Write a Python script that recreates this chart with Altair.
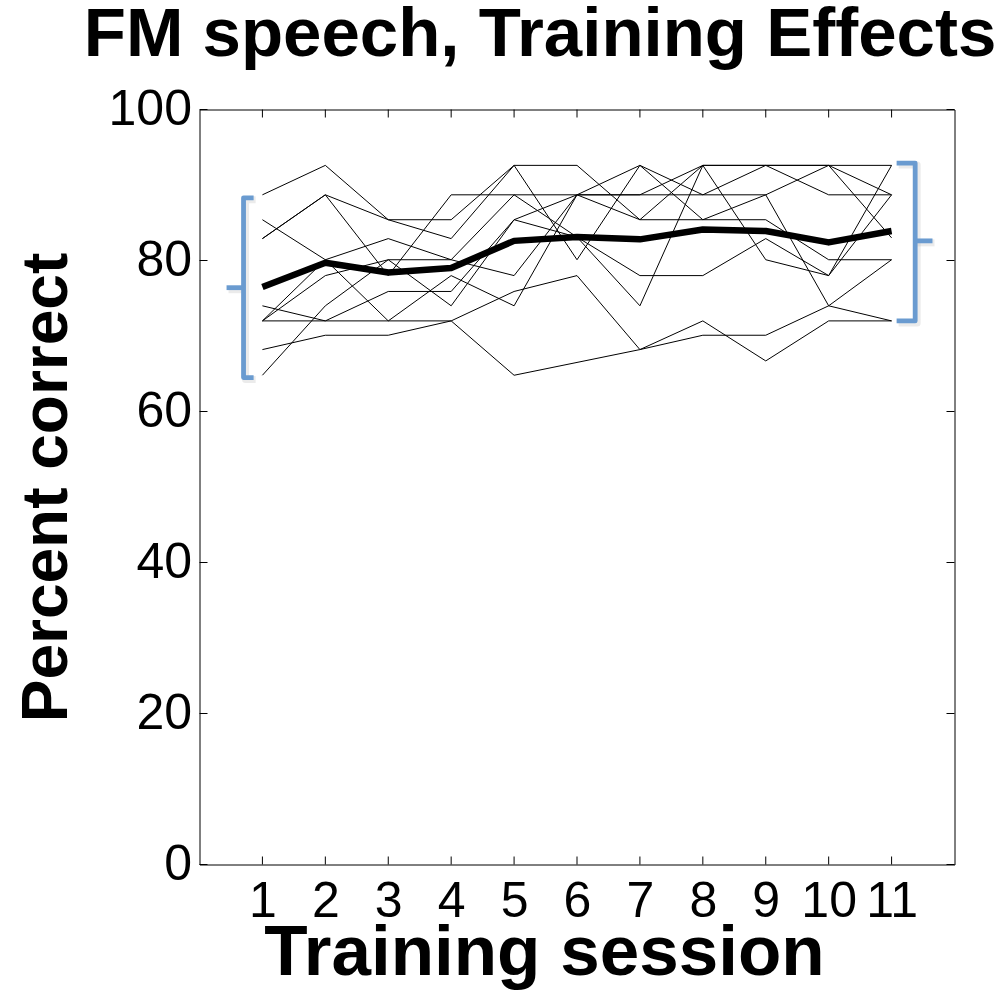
import altair as alt
import pandas as pd

# Training sessions (x) and per-listener percent correct (y)
sessions = list(range(1, 12))

subject_scores = {
    "S01": [88.7, 92.6, 85.4, 85.4, 92.6, 92.6, 85.4, 92.6, 92.6, 92.6, 88.7],
    "S02": [82.9, 88.7, 85.4, 82.9, 92.6, 80.1, 92.6, 85.4, 88.7, 74.0, 80.1],
    "S03": [82.9, 88.7, 78.0, 88.7, 88.7, 88.7, 92.6, 88.7, 92.6, 88.7, 88.7],
    "S04": [85.4, 80.1, 72.0, 78.0, 74.0, 88.7, 88.7, 92.6, 92.6, 92.6, 92.6],
    "S05": [72.0, 80.1, 82.9, 80.1, 88.7, 83.1, 78.0, 78.0, 82.9, 78.0, 92.6],
    "S06": [72.0, 78.0, 80.1, 80.1, 78.0, 88.7, 88.7, 88.7, 88.7, 92.6, 83.0],
    "S07": [72.0, 72.0, 72.0, 72.0, 64.8, 66.5, 68.2, 70.1, 70.1, 74.0, 72.0],
    "S08": [74.0, 72.0, 75.9, 75.9, 85.4, 83.1, 74.0, 92.6, 80.1, 78.0, 88.7],
    "S09": [68.2, 70.1, 70.1, 72.0, 75.9, 78.0, 68.2, 72.0, 66.7, 72.0, 72.0],
    "S10": [64.8, 74.0, 80.1, 74.0, 85.4, 88.7, 85.4, 85.4, 85.4, 80.1, 80.1],
}

# Group mean per session
mean_scores = [76.5, 79.7, 78.4, 79.0, 82.6, 83.1, 82.8, 84.1, 83.9, 82.4, 83.9]

# Spread of scores at the first and last session (low, mean, high)
first_range = [64.5, 76.4, 88.3]
last_range = [72.0, 82.6, 92.9]

y_ticks = [0, 20, 40, 60, 80, 100]
x_ticks = sessions

TITLE = "FM speech, Training Effects"
FONT = "Liberation Sans"
X_MAX, Y_MAX = 12, 100
W = H = 755
LEFT, TOP = 199.5, 109.5

rows = []
for sid, vals in subject_scores.items():
    for s, v in zip(sessions, vals):
        rows.append({"subject": sid, "session": s, "score": v})
subjects = pd.DataFrame(rows)
means = pd.DataFrame({"session": sessions, "score": mean_scores})

# inward tick marks on all four sides of the box
tx = 8 * X_MAX / W
ty = 8 * Y_MAX / H
tick_rows = []
for v in y_ticks:
    tick_rows.append({"x": 0, "x2": tx, "y": v, "y2": v})
    tick_rows.append({"x": X_MAX - tx, "x2": X_MAX, "y": v, "y2": v})
for v in x_ticks:
    tick_rows.append({"x": v, "x2": v, "y": 0, "y2": ty})
    tick_rows.append({"x": v, "x2": v, "y": Y_MAX - ty, "y2": Y_MAX})
ticks = pd.DataFrame(tick_rows)

# square brackets marking the spread at the first and last session
def bracket(name, rng, bar_x, end_x, tip_x):
    lo, mid, hi = rng
    pts = [(end_x, hi), (bar_x, hi), (bar_x, lo), (end_x, lo)]
    out = [{"part": name + "_b", "k": i, "x": x, "y": y} for i, (x, y) in enumerate(pts)]
    out += [{"part": name + "_t", "k": i, "x": x, "y": mid}
            for i, x in enumerate([bar_x, tip_x])]
    return out

brackets = pd.DataFrame(
    bracket("first", first_range, 0.70, 0.86, 0.43)
    + bracket("last", last_range, 11.375, 11.08, 11.65)
)
# soft drop shadow: same path nudged 2px right and 2px down
shadow = brackets.assign(x=brackets["x"] + 2 * X_MAX / W,
                         y=brackets["y"] - 2 * Y_MAX / H)

xs = alt.Scale(domain=[0, X_MAX], nice=False, zero=False)
ys = alt.Scale(domain=[0, Y_MAX], nice=False, zero=False)

x_axis = alt.Axis(
    values=x_ticks, format="d", labelOverlap=False, domain=False, ticks=False,
    grid=False, labelFont=FONT, labelFontSize=50, labelColor="black",
    labelPadding=12,
    title="Training session", titleFont=FONT, titleFontSize=71,
    titleFontWeight="bold", titleColor="black",
    titleX=344.5, titleY=110, titleAlign="center", titleBaseline="alphabetic",
)
y_axis = alt.Axis(
    values=y_ticks, format="d", domain=False, ticks=False, grid=False,
    labelFont=FONT, labelFontSize=50, labelColor="black", labelPadding=8,
    title="Percent correct", titleFont=FONT, titleFontSize=64,
    titleFontWeight="bold", titleColor="black",
    titleX=-133, titleY=H / 2, titleAngle=270, titleAlign="center",
    titleBaseline="alphabetic",
)

lines = alt.Chart(subjects).mark_line(color="black", strokeWidth=1).encode(
    x=alt.X("session:Q", scale=xs, axis=x_axis),
    y=alt.Y("score:Q", scale=ys, axis=y_axis),
    detail="subject:N",
)

mean_line = alt.Chart(means).mark_line(
    color="black", strokeWidth=6.5, strokeJoin="round"
).encode(
    x=alt.X("session:Q", scale=xs),
    y=alt.Y("score:Q", scale=ys),
)

tick_marks = alt.Chart(ticks).mark_rule(color="black", strokeWidth=1).encode(
    x=alt.X("x:Q", scale=xs), x2="x2:Q",
    y=alt.Y("y:Q", scale=ys), y2="y2:Q",
)

bracket_shadow = alt.Chart(shadow).mark_line(
    color="#9a9a9a", opacity=0.2, strokeWidth=7, strokeJoin="round"
).encode(
    x=alt.X("x:Q", scale=xs),
    y=alt.Y("y:Q", scale=ys),
    detail="part:N",
    order="k:Q",
)

bracket_marks = alt.Chart(brackets).mark_line(
    color="#6a9bd0", strokeWidth=4.8, strokeJoin="round", strokeCap="butt"
).encode(
    x=alt.X("x:Q", scale=xs),
    y=alt.Y("y:Q", scale=ys),
    detail="part:N",
    order="k:Q",
)

title = alt.Chart(pd.DataFrame({"t": [TITLE]})).mark_text(
    font=FONT, fontSize=69, fontWeight="bold", color="black",
    align="center", baseline="alphabetic",
).encode(
    text="t:N",
    x=alt.value(540 - LEFT),
    y=alt.value(56 - TOP),
)

chart = (
    alt.layer(lines, mean_line, tick_marks, bracket_shadow, bracket_marks, title)
    .properties(
        width=W, height=H,
        autosize=alt.AutoSizeParams(type="none"),
        padding={"left": LEFT, "top": TOP, "right": 1008 - LEFT - W,
                 "bottom": 991 - TOP - H},
    )
    .configure(background="white")
    .configure_view(stroke="black", strokeWidth=1)
)

chart.save("out.html", embed_options={"renderer": "svg", "actions": False})
